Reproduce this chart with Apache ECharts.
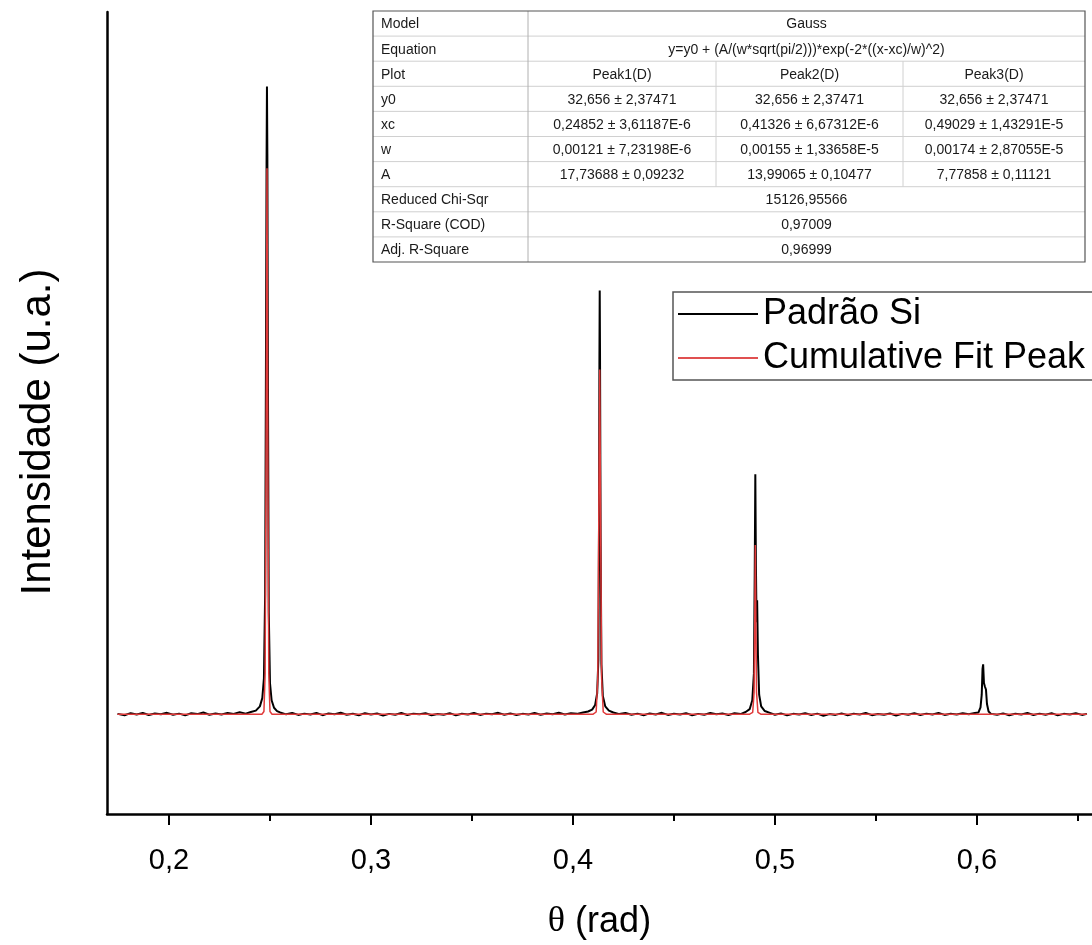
<!DOCTYPE html>
<html style="height: 100%">
  <head>
    <meta charset="utf-8" />
  </head>
  <body style="height: 100%; margin: 0; background: #fff">
    <div id="container" style="width: 1092px; height: 945px"></div>
    <script src="https://cdn.jsdelivr.net/npm/echarts@6/dist/echarts.min.js"></script>
    <script type="text/javascript">
      // measured pattern (theta in rad, intensity)
      var padraoSi = [
        [0.1745, 40], [0.178, 10], [0.181, 55], [0.184, 25], [0.187, 60], [0.19, 15], [0.193, 48],
        [0.196, 30], [0.199, 62], [0.202, 20], [0.205, 45], [0.208, 8], [0.211, 52], [0.214, 35],
        [0.217, 70], [0.22, 22], [0.223, 50], [0.226, 28], [0.229, 58], [0.232, 40], [0.235, 75],
        [0.238, 45], [0.2405, 80],
        [0.243, 110], [0.245, 200], [0.2462, 380], [0.247, 800], [0.2476, 2600], [0.248, 7500],
        [0.2483, 11800], [0.2485, 13450], [0.2487, 12000], [0.249, 7000], [0.2494, 2200],
        [0.25, 700], [0.2508, 330], [0.252, 170], [0.2535, 100], [0.255, 70],
        [0.258, 30], [0.261, 58], [0.264, 18], [0.267, 45], [0.27, 25], [0.273, 60], [0.276, 12],
        [0.279, 50], [0.282, 30], [0.285, 65], [0.288, 20], [0.291, 42], [0.294, 10], [0.297, 55],
        [0.3, 28], [0.303, 48], [0.306, 5], [0.309, 40], [0.312, 22], [0.315, 60], [0.318, 15],
        [0.321, 45], [0.324, 30], [0.327, 52], [0.33, 12], [0.333, 38], [0.336, 20], [0.339, 55],
        [0.342, 8], [0.345, 42], [0.348, 25], [0.351, 60], [0.354, 18], [0.357, 45], [0.36, 30],
        [0.363, 62], [0.366, 22], [0.369, 50], [0.372, 15], [0.375, 40], [0.378, 28], [0.381, 58],
        [0.384, 20], [0.387, 48], [0.39, 32], [0.393, 65], [0.396, 25], [0.399, 55], [0.402, 40],
        [0.405, 70], [0.4075, 90],
        [0.4095, 130], [0.411, 230], [0.412, 480], [0.4126, 1200], [0.4129, 4000], [0.4131, 7500],
        [0.41326, 9090], [0.4134, 7800], [0.4137, 3800], [0.4141, 1100], [0.4148, 420],
        [0.416, 200], [0.4178, 110], [0.42, 70],
        [0.423, 35], [0.426, 60], [0.429, 20], [0.432, 45], [0.435, 12], [0.438, 50], [0.441, 28],
        [0.444, 62], [0.447, 18], [0.45, 42], [0.453, 25], [0.456, 55], [0.459, 10], [0.462, 40],
        [0.465, 22], [0.468, 58], [0.471, 30], [0.474, 48], [0.477, 15], [0.48, 52], [0.483, 35],
        [0.4855, 80],
        [0.4875, 140], [0.4888, 330], [0.4896, 900], [0.49, 3000], [0.4903, 5160], [0.4906, 3200],
        [0.4909, 2000], [0.4912, 2470], [0.4916, 1300], [0.4922, 450], [0.4932, 200],
        [0.495, 100], [0.4975, 60],
        [0.5, 20], [0.503, 50], [0.506, 8], [0.509, 40], [0.512, 25], [0.515, 55], [0.518, 15],
        [0.521, 45], [0.524, 0], [0.527, 35], [0.53, 18], [0.533, 50], [0.536, 10], [0.539, 42],
        [0.542, 25], [0.545, 58], [0.548, 12], [0.551, 38], [0.554, 20], [0.557, 48], [0.56, 5],
        [0.563, 40], [0.566, 22], [0.569, 55], [0.572, 15], [0.575, 45], [0.578, 28], [0.581, 60],
        [0.584, 18], [0.587, 42], [0.59, 25], [0.593, 55], [0.596, 30], [0.599, 60],
        [0.6008, 70], [0.6018, 180], [0.6024, 450], [0.6028, 1000], [0.6031, 1100], [0.6035, 700],
        [0.604, 620], [0.6045, 560], [0.605, 250], [0.6058, 90], [0.607, 40],
        [0.61, 20], [0.613, 50], [0.616, 10], [0.619, 42], [0.622, 28], [0.625, 60], [0.628, 15],
        [0.631, 45], [0.634, 22], [0.637, 55], [0.64, 8], [0.643, 40], [0.646, 25], [0.649, 52],
        [0.652, 18], [0.6545, 40]
      ];

      // cumulative gaussian fit
      var cumulativeFit = [
        [0.1745, 33], [0.246, 33], [0.247, 90], [0.2476, 900], [0.248, 4800], [0.24852, 11700],
        [0.249, 4800], [0.2494, 900], [0.25, 90], [0.251, 33],
        [0.41, 33], [0.4115, 80], [0.4123, 800], [0.4128, 4200], [0.41326, 7400], [0.4137, 4200],
        [0.4142, 800], [0.415, 80], [0.4165, 33],
        [0.4875, 33], [0.489, 70], [0.4897, 500], [0.49, 1900], [0.49029, 3650], [0.4906, 1900],
        [0.4909, 500], [0.4916, 70], [0.493, 33],
        [0.6545, 33]
      ];

      var majorTicks = [0.2, 0.3, 0.4, 0.5, 0.6];
      var minorTicks = [0.25, 0.35, 0.45, 0.55, 0.65];

      var tableRows = [
        ["Model", "Gauss"],
        ["Equation", "y=y0 + (A/(w*sqrt(pi/2)))*exp(-2*((x-xc)/w)^2)"],
        ["Plot", "Peak1(D)", "Peak2(D)", "Peak3(D)"],
        ["y0", "32,656 ± 2,37471", "32,656 ± 2,37471", "32,656 ± 2,37471"],
        ["xc", "0,24852 ± 3,61187E-6", "0,41326 ± 6,67312E-6", "0,49029 ± 1,43291E-5"],
        ["w", "0,00121 ± 7,23198E-6", "0,00155 ± 1,33658E-5", "0,00174 ± 2,87055E-5"],
        ["A", "17,73688 ± 0,09232", "13,99065 ± 0,10477", "7,77858 ± 0,11121"],
        ["Reduced Chi-Sqr", "15126,95566"],
        ["R-Square (COD)", "0,97009"],
        ["Adj. R-Square", "0,96999"]
      ];

      var FONT = "Liberation Sans, Arial, sans-serif";

      // table drawn as graphic elements
      var colX = [373, 528, 716, 903, 1085];
      var rowTop = 11, rowH = 25.1;
      var tableEls = [];
      tableEls.push({
        type: "rect",
        shape: { x: colX[0], y: rowTop, width: colX[4] - colX[0], height: rowH * tableRows.length },
        style: { fill: "#fff", stroke: "none" }
      });
      tableRows.forEach(function (row, i) {
        var y = rowTop + i * rowH;
        var cy = y + rowH / 2 + 1;
        if (i > 0) {
          tableEls.push({
            type: "line",
            shape: { x1: colX[0], y1: y, x2: colX[4], y2: y },
            style: { stroke: "#d0d0d0", lineWidth: 1 }
          });
        }
        tableEls.push({
          type: "text",
          style: { text: row[0], x: colX[0] + 8, y: cy, font: "14px " + FONT, fill: "#1a1a1a", verticalAlign: "middle" }
        });
        if (row.length === 2) {
          tableEls.push({
            type: "text",
            style: { text: row[1], x: (colX[1] + colX[4]) / 2, y: cy, font: "14px " + FONT, fill: "#1a1a1a", align: "center", verticalAlign: "middle" }
          });
        } else {
          for (var c = 1; c < row.length; c++) {
            tableEls.push({
              type: "text",
              style: { text: row[c], x: (colX[c] + colX[c + 1]) / 2, y: cy, font: "14px " + FONT, fill: "#1a1a1a", align: "center", verticalAlign: "middle" }
            });
          }
        }
      });
      [2, 3].forEach(function (c) {
        tableEls.push({
          type: "line",
          shape: { x1: colX[c], y1: rowTop + 2 * rowH, x2: colX[c], y2: rowTop + 7 * rowH },
          style: { stroke: "#d0d0d0", lineWidth: 1 }
        });
      });
      tableEls.push({
        type: "line",
        shape: { x1: colX[1], y1: rowTop, x2: colX[1], y2: rowTop + rowH * tableRows.length },
        style: { stroke: "#b0b0b0", lineWidth: 1 }
      });
      tableEls.push({
        type: "rect",
        shape: { x: colX[0], y: rowTop, width: colX[4] - colX[0], height: rowH * tableRows.length },
        style: { fill: "none", stroke: "#555", lineWidth: 1.2 }
      });

      // legend frame (runs past the right edge like the original)
      tableEls.push({
        type: "rect",
        shape: { x: 673, y: 292, width: 500, height: 88 },
        style: { fill: "#fff", stroke: "#555", lineWidth: 1.5 },
        z: -1
      });

      var myChart = echarts.init(document.getElementById("container"));
      var option = {
        animation: false,
        textStyle: { fontFamily: FONT },
        grid: { left: 107, right: 0, top: 12, bottom: 131, outerBoundsMode: "none" },
        legend: {
          orient: "vertical",
          left: 678,
          top: 296,
          padding: 0,
          itemWidth: 80,
          itemHeight: 2,
          itemGap: 8,
          textStyle: { fontSize: 36, color: "#000", fontFamily: FONT },
          data: [
            { name: "Padrão Si", icon: "rect", itemStyle: { color: "#000" } },
            { name: "Cumulative Fit Peak", icon: "rect", itemStyle: { color: "#e05050" } }
          ]
        },
        xAxis: [
          {
            type: "value",
            min: 0.1693,
            max: 0.657,
            name: "{t|θ} (rad)",
            nameLocation: "middle",
            nameGap: 90,
            nameTextStyle: {
              fontSize: 36,
              color: "#000",
              rich: { t: { fontSize: 36, fontFamily: "Liberation Serif", color: "#000" } }
            },
            axisLine: { onZero: false, lineStyle: { color: "#000", width: 2.5 } },
            axisTick: { show: true, length: 11, lineStyle: { color: "#000", width: 2 }, customValues: majorTicks },
            axisLabel: {
              fontSize: 29,
              color: "#000",
              margin: 32,
              customValues: majorTicks,
              formatter: function (v) { return v.toFixed(1).replace(".", ","); }
            },
            splitLine: { show: false }
          },
          {
            type: "value",
            min: 0.1693,
            max: 0.657,
            position: "bottom",
            axisLine: { show: false, onZero: false },
            axisTick: { show: true, length: 7, lineStyle: { color: "#000", width: 2 }, customValues: minorTicks },
            axisLabel: { show: false },
            splitLine: { show: false }
          }
        ],
        yAxis: {
          type: "value",
          min: -2100,
          max: 15040,
          name: "Intensidade (u.a.)",
          nameLocation: "middle",
          nameGap: 48,
          nameTextStyle: { fontSize: 42, color: "#000", padding: [0, 38, 0, 0] },
          axisLine: { show: true, onZero: false, lineStyle: { color: "#000", width: 2.5 } },
          axisTick: { show: false },
          axisLabel: { show: false },
          splitLine: { show: false }
        },
        graphic: tableEls,
        series: [
          {
            name: "Padrão Si",
            type: "line",
            data: padraoSi,
            symbol: "none",
            sampling: null,
            lineStyle: { color: "#000", width: 2 },
            itemStyle: { color: "#000" }
          },
          {
            name: "Cumulative Fit Peak",
            type: "line",
            data: cumulativeFit,
            symbol: "none",
            lineStyle: { color: "#e03a3a", width: 1.5 },
            itemStyle: { color: "#e03a3a" }
          }
        ]
      };
      myChart.setOption(option);
    </script>
  </body>
</html>
